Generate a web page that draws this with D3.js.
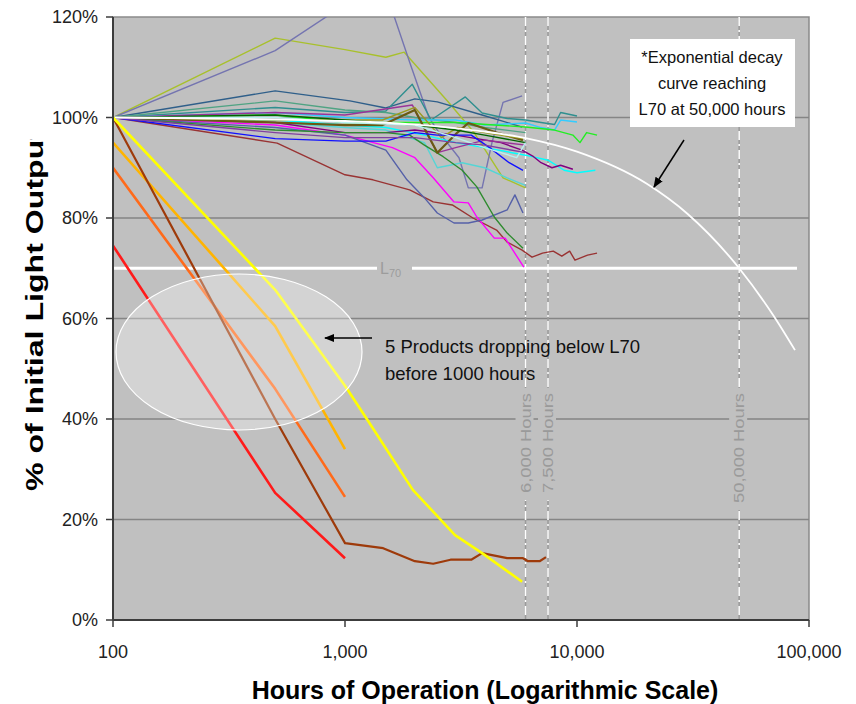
<!DOCTYPE html>
<html lang="en">
<head>
<meta charset="UTF-8">
<title>Lumen Maintenance</title>
<script src="https://d3js.org/d3.v7.min.js"></script>
<style>
  body { margin: 0; background: #fff; }
  text { font-family: Arial, "Liberation Sans", sans-serif; }
</style>
</head>
<body>
<div id="chart"></div>
<script>
// axis ticks and reference markers
var xTicks = [100, 1000, 10000, 100000];
var yTicks = [0, 20, 40, 60, 80, 100, 120];
var gridValues = [20, 40, 60, 80, 100];
var markerHours = [6000, 7500, 50000];
var markerLabels = ["6,000 Hours", "7,500 Hours", "50,000 Hours"];
var l70Value = 70;

// five products dropping below L70 before 1000 hours  [hours, % output]
var redProduct = [[100, 74.5], [500, 25.3], [1000, 12.3]];
var orangeProduct = [[100, 90], [500, 46], [1000, 24.5]];
var goldProduct = [[100, 95], [500, 58.5], [1000, 34]];
var brownProduct = [[100, 100], [500, 40], [1000, 15.3], [1460, 14.3], [2000, 11.7], [2400, 11.2], [2850, 12], [3500, 12], [3900, 13.3], [5000, 12.3], [5850, 12.3], [6150, 11.7], [6900, 11.7], [7350, 12.5]];
var yellowProduct = [[100, 100], [500, 65.7], [1000, 46.6], [1250, 39.8], [1960, 25.9], [2980, 16.9], [3900, 13.3], [5800, 7.6]];

// the other products
var yellowGreen = [[100, 100], [500, 115.8], [1000, 113.5], [1500, 112], [1800, 113], [2800, 103], [3600, 97], [4800, 88], [6000, 86]];
var slatePurple = [[100, 100], [500, 113.3], [1000, 122.5], [1500, 125], [1900, 111], [2300, 100], [2500, 97.5], [3100, 92], [3400, 86], [3900, 86], [4300, 95], [4800, 103], [5800, 104.3]];
var navy = [[100, 100], [500, 105.3], [1050, 103.3], [1500, 101.9], [2000, 103.7], [2500, 103.1], [3900, 100.5], [5800, 98.1]];
var teal = [[100, 100], [500, 102], [1000, 101], [1500, 101.3], [1950, 106.6], [2350, 99.5], [3300, 104.1], [3900, 100.9], [5000, 99.8], [6000, 99.5], [7000, 99], [8000, 98.6], [8500, 101], [10000, 100.3]];
var seaGreen = [[100, 100], [500, 103.3], [1000, 101.5], [1500, 101], [2000, 100], [3000, 99], [4000, 98], [6000, 97]];
var skyBlue = [[100, 100], [500, 101], [1000, 100], [2000, 99.5], [3000, 99.5], [4000, 98.5], [6000, 98.9], [7000, 98], [8000, 97.5], [8500, 99.5], [10000, 99.1]];
var brightGreen = [[100, 100], [500, 100.5], [1000, 99], [2000, 99], [3000, 99], [6000, 98.1], [8000, 97.5], [9600, 96.5], [10300, 95], [11000, 97], [12200, 96.5]];
var cyan = [[100, 100], [500, 99.5], [1000, 98.5], [1500, 98], [2200, 96.5], [3000, 95], [4000, 94], [6000, 92.5], [7500, 91.5], [8800, 89.5], [10000, 89], [12000, 89.5]];
var turquoise = [[100, 100], [500, 99], [1000, 98], [1500, 97.5], [2200, 95], [2500, 90], [3200, 91], [4000, 90], [5000, 88], [6000, 86.5]];
var purple = [[100, 100], [500, 99], [1000, 97], [1500, 97], [2000, 97.5], [3000, 96.5], [4700, 95], [5800, 93.5], [6500, 92.2], [7000, 91], [7800, 90], [8500, 90.5], [9600, 89.7]];
var orchid = [[100, 100], [500, 101], [1000, 100.5], [1950, 102.5], [2300, 96], [2500, 93], [3000, 94], [4000, 95.5], [6000, 94.5]];
var maroon = [[100, 100], [510, 94.9], [1000, 88.6], [1320, 87.6], [1900, 85.6], [2400, 83.2], [2900, 82.6], [3560, 80], [4500, 77.6], [5000, 75.2], [5800, 73.6], [6400, 72.2], [7100, 73], [7900, 73.4], [8600, 72.4], [9300, 73.4], [9800, 71.6], [11100, 72.6], [12200, 73]];
var magenta = [[100, 100], [500, 98.5], [1000, 96.5], [1600, 94], [2000, 92], [2400, 88], [2950, 83.2], [3400, 83], [3700, 80.2], [4400, 76], [4900, 76], [5900, 70.2]];
var slateBlue = [[100, 100], [500, 98], [1000, 96.5], [1500, 93.5], [1850, 87.6], [2200, 84], [2500, 81], [2950, 79], [3400, 79], [3900, 79.6], [5000, 81.6], [5400, 84.6], [5850, 81]];
var forestGreen = [[100, 100], [500, 97.5], [1000, 97], [1500, 97], [1900, 96.5], [2200, 94.5], [2650, 92.2], [3200, 89.5], [3700, 86.2], [4400, 80.2], [5000, 77], [5850, 74]];
var olive = [[100, 100], [500, 99], [1000, 98.5], [1450, 98.5], [2000, 101.5], [2500, 93], [3050, 97], [3400, 98.9], [4500, 97], [5850, 95.5]];
var khaki = [[100, 100], [500, 99.5], [1000, 99.5], [1450, 99.5], [2000, 102], [2600, 96], [3050, 98], [4000, 97], [5850, 95.8]];
var blue = [[100, 100], [500, 95.8], [1000, 95.3], [1500, 95.3], [2000, 97], [2500, 96.5], [3500, 96.5], [4200, 94], [5100, 91], [5850, 89.5]];
var darkGreen = [[100, 100], [500, 100.5], [1000, 99.5], [2000, 98.5], [3000, 97.5], [4000, 96.5], [6000, 95]];
var paleCyan = [[100, 100], [500, 100], [1000, 99], [2000, 98.5], [3000, 96], [4000, 94], [5500, 92], [6000, 95]];
var violet = [[100, 100], [500, 97], [1000, 96], [2000, 96], [3000, 95], [4000, 94.5], [6000, 93]];

// exponential decay curve reaching L70 at 50,000 hours
var decayCurve = [[100, 100], [1000, 99.3], [2000, 98.6], [4000, 97.2], [6000, 95.9], [10000, 93.2], [20000, 86.8], [30000, 80.8], [50000, 70], [70000, 60.7], [87000, 53.7]];

var noteLines = ["*Exponential decay", "curve reaching", "L70 at 50,000 hours"];
var calloutLines = ["5 Products dropping below L70", "before 1000 hours"];

var clusterSeries = [yellowGreen, slatePurple, navy, teal, seaGreen, skyBlue, brightGreen, cyan, turquoise, purple, orchid, maroon, magenta, slateBlue, forestGreen, olive, khaki, blue, darkGreen, paleCyan, violet];
var clusterColors = ["#a8c02c", "#7474b0", "#2f5f8a", "#2f8f8f", "#4fa383", "#33ccff", "#22ee22", "#00ffff", "#55d5d5", "#800080", "#993399", "#993333", "#ff00ff", "#5560a8", "#2e8b2e", "#6b5a14", "#9a9a20", "#1010ff", "#006400", "#b8f0f0", "#8040a0"];
var failSeries = [redProduct, orangeProduct, goldProduct, brownProduct, yellowProduct];
var failColors = ["#ff1a1a", "#ff6a1a", "#ffb400", "#9e3a0a", "#ffff00"];

var width = 856, height = 704;
var plotLeft = 113, plotRight = 809, plotTop = 17, plotBottom = 620;

var svg = d3.select("#chart").append("svg")
  .attr("width", width)
  .attr("height", height);

var x = d3.scaleLog().domain([100, 100000]).range([plotLeft, plotRight]);
var y = d3.scaleLinear().domain([0, 120]).range([plotBottom, plotTop]);

var defs = svg.append("defs");
defs.append("clipPath").attr("id", "plotClip")
  .append("rect").attr("x", plotLeft).attr("y", plotTop)
  .attr("width", plotRight - plotLeft).attr("height", plotBottom - plotTop);
defs.append("clipPath").attr("id", "titleClip")
  .append("rect").attr("x", 0).attr("y", 139).attr("width", 100).attr("height", 560);
defs.append("marker").attr("id", "arrowHead")
  .attr("viewBox", "0 0 10 10").attr("refX", 9).attr("refY", 5)
  .attr("markerWidth", 7).attr("markerHeight", 7).attr("orient", "auto")
  .append("path").attr("d", "M0,1 L10,5 L0,9 Z").attr("fill", "#000");

// plot background
svg.append("rect")
  .attr("x", plotLeft).attr("y", plotTop)
  .attr("width", plotRight - plotLeft).attr("height", plotBottom - plotTop)
  .attr("fill", "#c0c0c0")
  .attr("stroke", "#8a8a8a").attr("stroke-width", 1.5);

// gridlines
svg.selectAll(".grid").data(gridValues).enter().append("line")
  .attr("class", "grid")
  .attr("x1", plotLeft).attr("x2", plotRight)
  .attr("y1", function(d) { return y(d); })
  .attr("y2", function(d) { return y(d); })
  .attr("stroke", "#858585").attr("stroke-width", 1.5);

// vertical hour markers
var markers = svg.selectAll(".marker").data(markerHours).enter().append("g").attr("class", "marker");
markers.append("line")
  .attr("x1", function(d) { return x(d); }).attr("x2", function(d) { return x(d); })
  .attr("y1", plotTop).attr("y2", plotBottom)
  .attr("stroke", "#9a9a9a").attr("stroke-width", 1.5);
markers.append("line")
  .attr("x1", function(d) { return x(d); }).attr("x2", function(d) { return x(d); })
  .attr("y1", plotTop).attr("y2", plotBottom)
  .attr("stroke", "#ffffff").attr("stroke-width", 1.5)
  .attr("stroke-dasharray", "9,4,2,4");
markers.append("rect")
  .attr("x", function(d) { return x(d) - 10; })
  .attr("y", 388)
  .attr("width", 18)
  .attr("height", function(d, i) { return i == 2 ? 122 : 112; })
  .attr("fill", "#c0c0c0");
markers.append("text")
  .attr("transform", function(d) { return "translate(" + (x(d) + 5) + ",393) rotate(-90)"; })
  .attr("text-anchor", "end")
  .attr("font-size", 14.5)
  .attr("fill", "#9a9a9a")
  .attr("textLength", function(d, i) { return i == 2 ? 110 : 100; })
  .attr("lengthAdjust", "spacingAndGlyphs")
  .text(function(d, i) { return markerLabels[i]; });

// L70 line with its label
svg.append("line")
  .attr("x1", plotLeft).attr("x2", 377)
  .attr("y1", y(l70Value)).attr("y2", y(l70Value))
  .attr("stroke", "#fff").attr("stroke-width", 3);
svg.append("line")
  .attr("x1", 412).attr("x2", 797)
  .attr("y1", y(l70Value)).attr("y2", y(l70Value))
  .attr("stroke", "#fff").attr("stroke-width", 3);
var l70Label = svg.append("text")
  .attr("x", 380).attr("y", y(l70Value) + 6)
  .attr("font-size", 16).attr("fill", "#9c9c9c");
l70Label.append("tspan").text("L");
l70Label.append("tspan").attr("dy", 3).attr("font-size", 11).text("70");

var line = d3.line()
  .x(function(d) { return x(d[0]); })
  .y(function(d) { return y(d[1]); });

var plot = svg.append("g").attr("clip-path", "url(#plotClip)");

plot.selectAll(".cluster").data(clusterSeries).enter().append("path")
  .attr("class", "cluster")
  .attr("d", line)
  .attr("fill", "none")
  .attr("stroke", function(d, i) { return clusterColors[i]; })
  .attr("stroke-width", function(d, i) { return i == 15 ? 2.2 : 1.4; })
  .attr("stroke-linejoin", "round");

plot.append("path")
  .attr("d", line.curve(d3.curveMonotoneX)(decayCurve))
  .attr("fill", "none")
  .attr("stroke", "#fff").attr("stroke-width", 1.8);
line.curve(d3.curveLinear);

plot.selectAll(".fail").data(failSeries).enter().append("path")
  .attr("class", "fail")
  .attr("d", line)
  .attr("fill", "none")
  .attr("stroke", function(d, i) { return failColors[i]; })
  .attr("stroke-width", function(d, i) { return i == 3 ? 2.2 : 2.6; })
  .attr("stroke-linejoin", "round");

// highlight ellipse
svg.append("ellipse")
  .attr("cx", 239).attr("cy", 352).attr("rx", 123).attr("ry", 78)
  .attr("fill", "rgba(255,255,255,0.3)")
  .attr("stroke", "#fff").attr("stroke-width", 1.2);

// callout arrow and text
svg.append("line")
  .attr("x1", 372).attr("y1", 338).attr("x2", 325).attr("y2", 338)
  .attr("stroke", "#000").attr("stroke-width", 1.5)
  .attr("marker-end", "url(#arrowHead)");
svg.selectAll(".callout").data(calloutLines).enter().append("text")
  .attr("class", "callout")
  .attr("x", 385)
  .attr("y", function(d, i) { return 353 + i * 27; })
  .attr("font-size", 18.5).attr("fill", "#111")
  .text(function(d) { return d; });

// exponential curve note
svg.append("rect")
  .attr("x", 630).attr("y", 39).attr("width", 165).attr("height", 88)
  .attr("fill", "#fff");
svg.selectAll(".note").data(noteLines).enter().append("text")
  .attr("class", "note")
  .attr("x", 712)
  .attr("y", function(d, i) { return 63 + i * 26; })
  .attr("text-anchor", "middle")
  .attr("font-size", 16.5).attr("fill", "#111")
  .text(function(d) { return d; });
svg.append("line")
  .attr("x1", 684).attr("y1", 140).attr("x2", 654).attr("y2", 187)
  .attr("stroke", "#000").attr("stroke-width", 1.5)
  .attr("marker-end", "url(#arrowHead)");

// axes
svg.append("line")
  .attr("x1", plotLeft).attr("x2", plotLeft).attr("y1", plotTop).attr("y2", plotBottom)
  .attr("stroke", "#3c3c3c").attr("stroke-width", 2);
svg.append("line")
  .attr("x1", plotLeft).attr("x2", plotRight).attr("y1", plotBottom).attr("y2", plotBottom)
  .attr("stroke", "#3c3c3c").attr("stroke-width", 2);

svg.selectAll(".ytick").data(yTicks).enter().append("line")
  .attr("x1", plotLeft - 7).attr("x2", plotLeft)
  .attr("y1", function(d) { return y(d); }).attr("y2", function(d) { return y(d); })
  .attr("stroke", "#3c3c3c").attr("stroke-width", 1.5);
svg.selectAll(".ylab").data(yTicks).enter().append("text")
  .attr("x", 98)
  .attr("y", function(d) { return y(d) + 6; })
  .attr("text-anchor", "end")
  .attr("font-size", 18).attr("fill", "#222")
  .text(function(d) { return d + "%"; });

svg.selectAll(".xtick").data(xTicks).enter().append("line")
  .attr("x1", function(d) { return x(d); }).attr("x2", function(d) { return x(d); })
  .attr("y1", plotBottom).attr("y2", plotBottom + 7)
  .attr("stroke", "#3c3c3c").attr("stroke-width", 1.5);
svg.selectAll(".xlab").data(xTicks).enter().append("text")
  .attr("x", function(d) { return x(d); })
  .attr("y", 658)
  .attr("text-anchor", "middle")
  .attr("font-size", 18).attr("fill", "#222")
  .text(function(d) { return d3.format(",")(d); });

// axis titles
svg.append("text")
  .attr("x", 485).attr("y", 699)
  .attr("text-anchor", "middle")
  .attr("font-size", 25).attr("font-weight", "bold").attr("fill", "#000")
  .text("Hours of Operation (Logarithmic Scale)");
svg.append("g").attr("clip-path", "url(#titleClip)")
  .append("text")
  .attr("transform", "translate(43,491) rotate(-90)")
  .attr("font-size", 24).attr("font-weight", "bold").attr("fill", "#000")
  .attr("textLength", 362).attr("lengthAdjust", "spacingAndGlyphs")
  .text("% of Initial Light Output");
</script>
</body>
</html>
